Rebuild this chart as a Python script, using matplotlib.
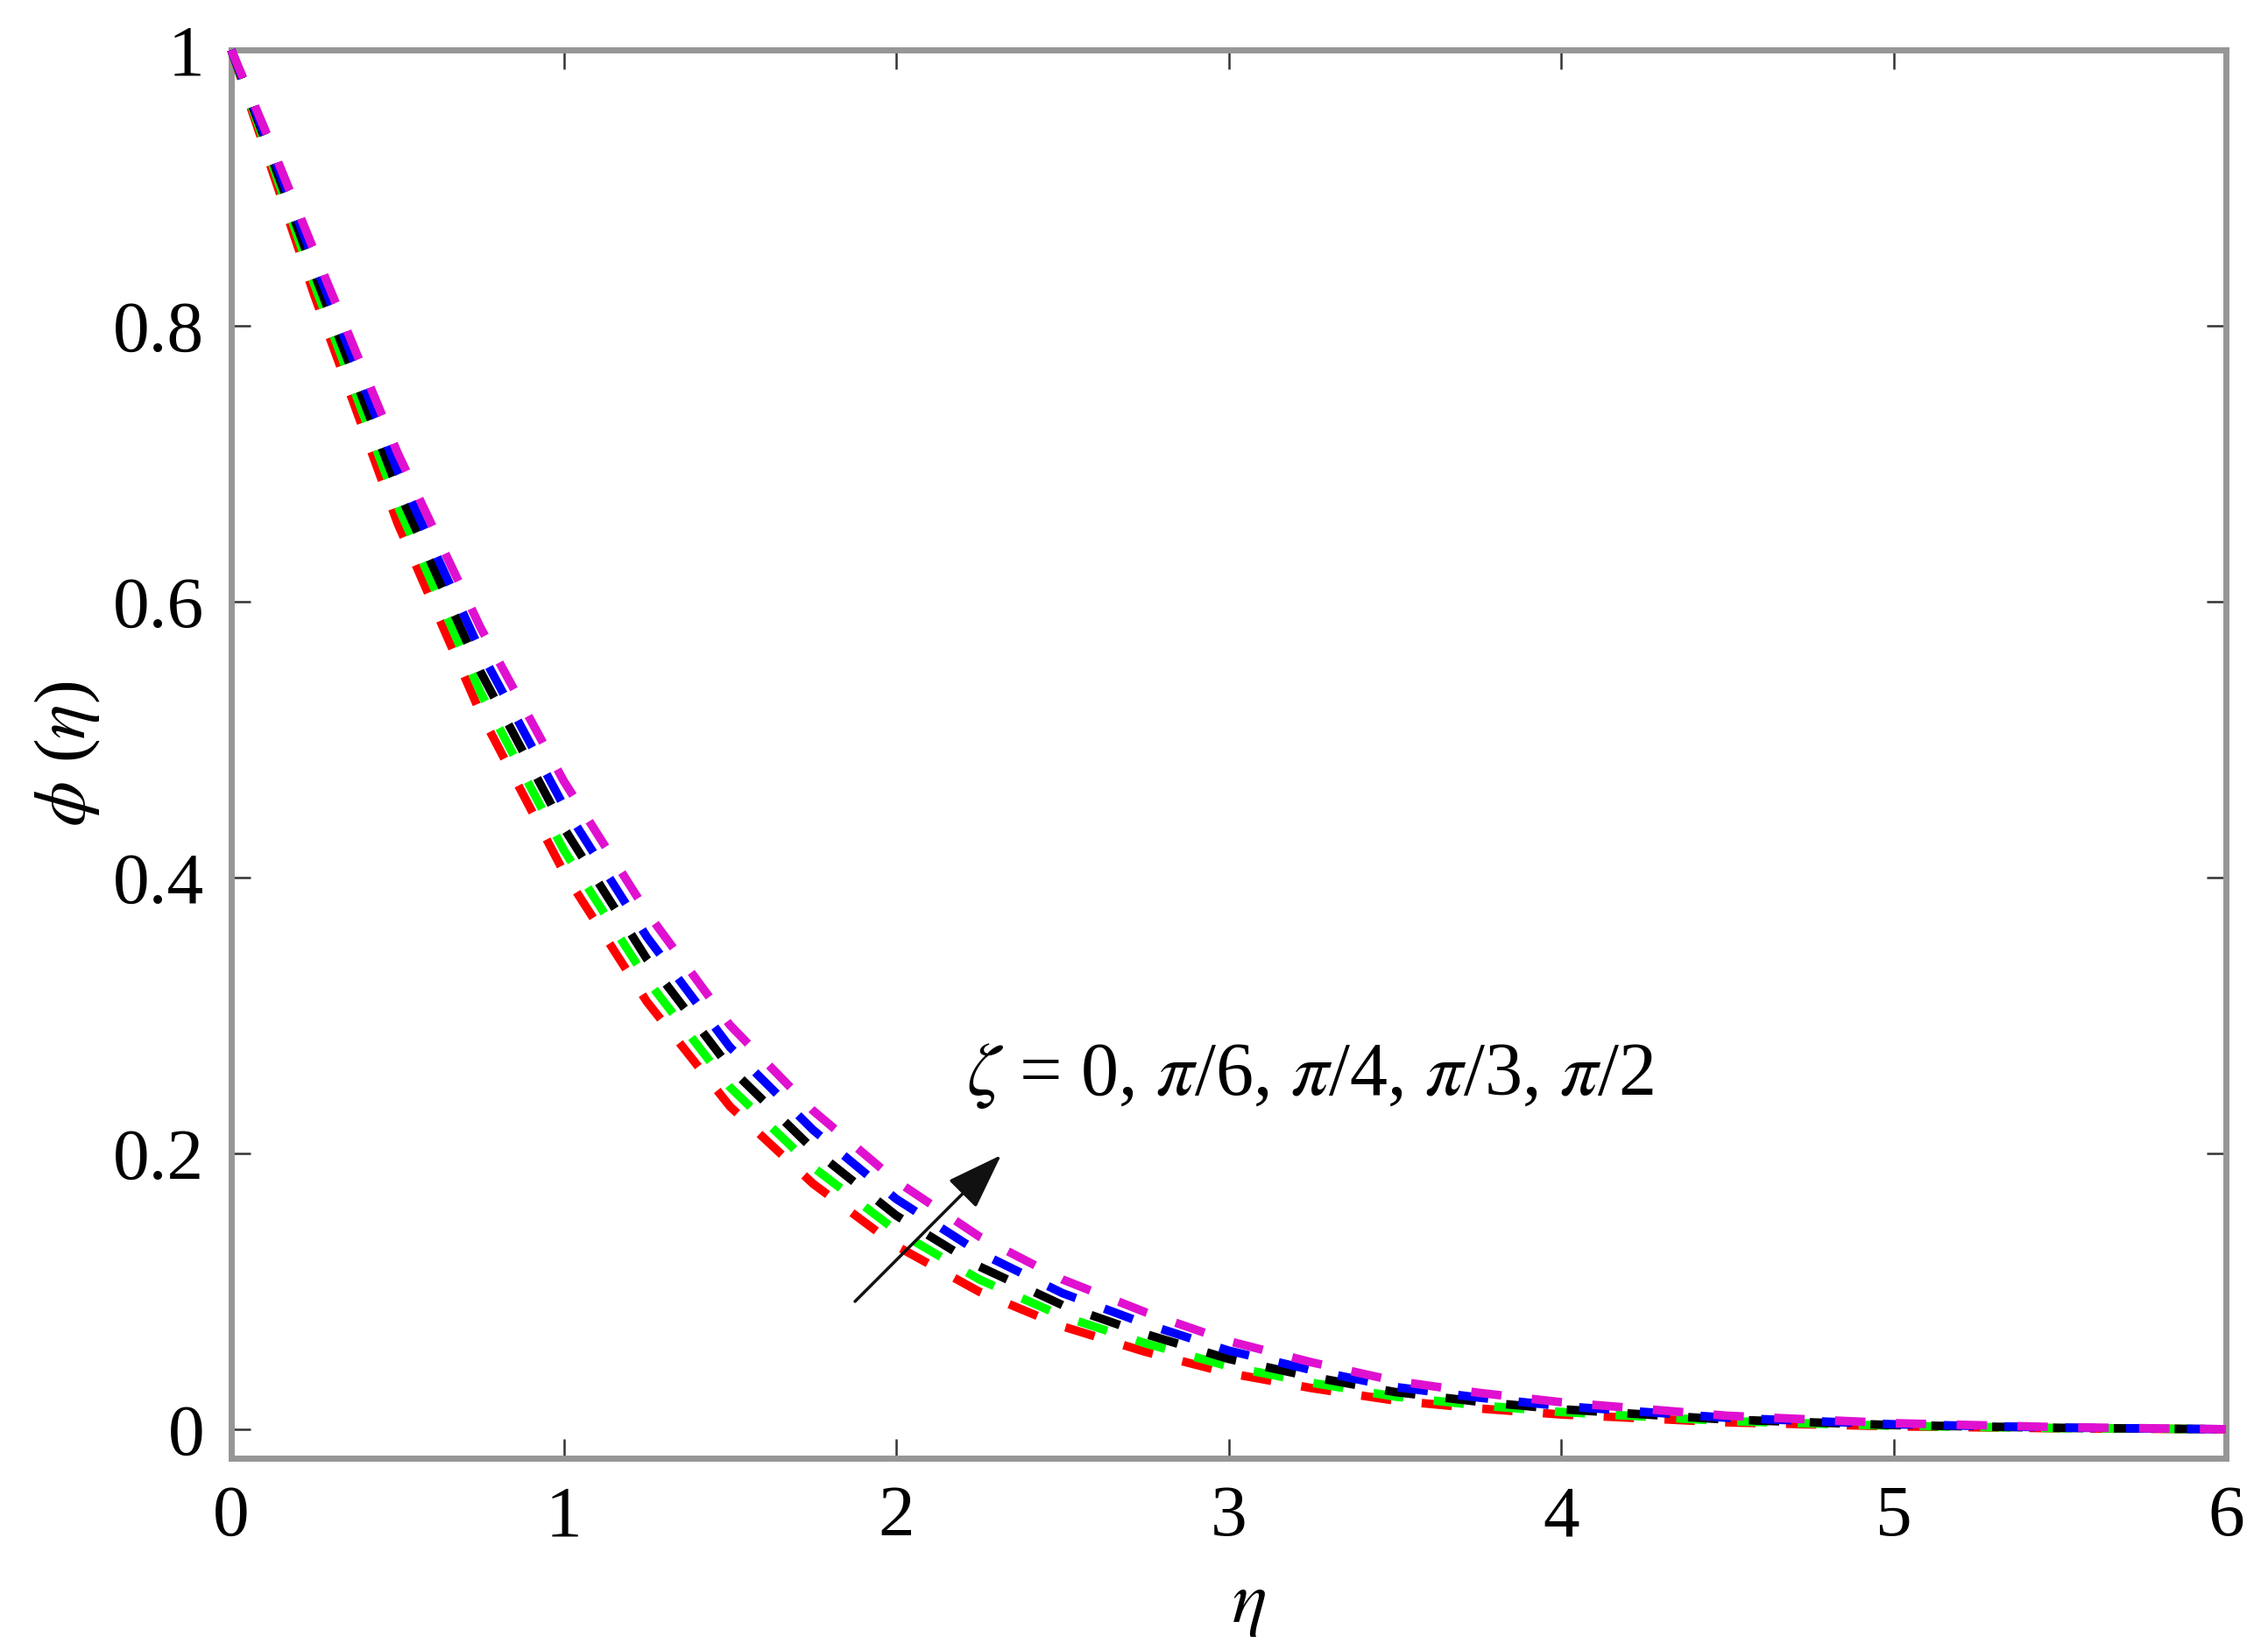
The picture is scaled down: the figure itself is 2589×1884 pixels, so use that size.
import matplotlib.pyplot as plt

plt.rcParams['font.family'] = ['Liberation Serif', 'DejaVu Serif']
plt.rcParams['mathtext.fontset'] = 'stix'
plt.rcParams['lines.scale_dashes'] = False

# eta grid and concentration profiles
eta = [0, 0.1, 0.25, 0.5, 0.75, 1.0, 1.25, 1.5, 1.75, 2.0, 2.25, 2.5, 2.75,
       3.0, 3.25, 3.5, 3.75, 4.0, 4.5, 5.0, 5.5, 6.0]

phi_zeta_0 = [1.0, 0.929, 0.822, 0.657, 0.519, 0.404, 0.310, 0.234, 0.178, 0.133,
              0.0997, 0.0746, 0.0561, 0.0407, 0.0298, 0.0208, 0.0151, 0.0107,
              0.0050, 0.0021, 0.0007, 0.0]
phi_zeta_pi6 = [1.0, 0.933, 0.830, 0.670, 0.534, 0.420, 0.326, 0.248, 0.190, 0.144,
                0.1086, 0.0820, 0.0623, 0.0456, 0.0337, 0.0237, 0.0174, 0.0125,
                0.0059, 0.0025, 0.0008, 0.0]
phi_zeta_pi4 = [1.0, 0.936, 0.838, 0.682, 0.549, 0.436, 0.341, 0.262, 0.203, 0.155,
                0.118, 0.090, 0.069, 0.051, 0.038, 0.027, 0.020, 0.0145,
                0.0070, 0.0030, 0.0010, 0.0]
phi_zeta_pi3 = [1.0, 0.939, 0.846, 0.695, 0.564, 0.452, 0.357, 0.277, 0.217, 0.167,
                0.1282, 0.0987, 0.0764, 0.0570, 0.0429, 0.0307, 0.0230, 0.0168,
                0.0083, 0.0036, 0.0012, 0.0]
phi_zeta_pi2 = [1.0, 0.943, 0.854, 0.708, 0.581, 0.470, 0.375, 0.293, 0.231, 0.180,
                0.1397, 0.1086, 0.0848, 0.0639, 0.0485, 0.0351, 0.0265, 0.0196,
                0.0098, 0.0044, 0.0015, 0.0]

series = [phi_zeta_0, phi_zeta_pi6, phi_zeta_pi4, phi_zeta_pi3, phi_zeta_pi2]
colors = ['#ff0000', '#00ff00', '#000000', '#0000ff', '#e010d0']

fig = plt.figure(figsize=(25.89, 18.84), dpi=100)
ax = fig.add_axes([0.10197, 0.11624, 0.87949, 0.85350])

for vals, c in zip(series, colors):
    ax.plot(eta, vals, color=c, lw=7, dashes=(25, 25),
            dash_capstyle='butt', clip_on=False, zorder=3)

ax.set_xlim(0, 6)
ax.set_ylim(-0.021, 1)
ax.set_xticks(range(7))
ax.set_yticks([0, 0.2, 0.4, 0.6, 0.8, 1])
ax.set_yticklabels(['0', '0.2', '0.4', '0.6', '0.8', '1'])

for s in ax.spines.values():
    s.set_color('#969696')
    s.set_linewidth(5)

ax.tick_params(direction='in', length=16, width=1.8, color='#333333',
               labelsize=60, pad=22, top=True, right=True)

ax.set_xlabel(r'$\eta$', fontsize=60)
ax.set_ylabel(r'$\phi$ ($\eta$)', fontsize=60)
ax.xaxis.set_label_coords(0.51, -0.1045)
ax.xaxis.label.set_va('center')
ax.yaxis.set_label_coords(-0.082, 0.5)
ax.yaxis.label.set_va('center')

ax.annotate('', xy=(2.321, 0.200), xytext=(1.871, 0.0914),
            arrowprops=dict(arrowstyle='-|>,head_length=1.0,head_width=0.35',
                            mutation_scale=40, lw=2.5, color='#111111'))
ax.text(2.21, 0.2425, r'$\zeta$ = 0, $\pi$/6, $\pi$/4, $\pi$/3, $\pi$/2',
        fontsize=62, va='baseline', ha='left')

fig.savefig('out.png', dpi=100)
